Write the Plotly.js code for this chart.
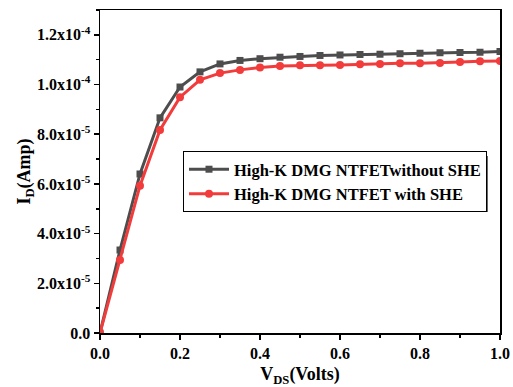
<!DOCTYPE html>
<html><head><meta charset="utf-8">
<script src="https://cdn.plot.ly/plotly-3.0.1.min.js"></script>
<style>body{margin:0;padding:0;background:#fff}#c{width:513px;height:387px}
#c svg text, #c svg tspan{font-family:"Liberation Serif" !important}</style>
</head><body>
<div id="c"></div>
<script>
const vds = [0,0.05,0.1,0.15,0.2,0.25,0.3,0.35,0.4,0.45,0.5,0.55,0.6,0.65,0.7,0.75,0.8,0.85,0.9,0.95,1.0];
const idWithout = [0,3.34e-5,6.4e-5,8.66e-5,9.9e-5,1.051e-4,1.083e-4,1.097e-4,1.104e-4,1.110e-4,1.113e-4,1.117e-4,1.119e-4,1.121e-4,1.122e-4,1.124e-4,1.126e-4,1.128e-4,1.129e-4,1.130e-4,1.133e-4];
const idWith = [0,2.94e-5,5.93e-5,8.17e-5,9.49e-5,1.019e-4,1.046e-4,1.059e-4,1.069e-4,1.075e-4,1.078e-4,1.078e-4,1.079e-4,1.082e-4,1.083e-4,1.086e-4,1.086e-4,1.087e-4,1.091e-4,1.094e-4,1.095e-4];
const names = ["High-K DMG NTFETwithout SHE","High-K DMG NTFET with SHE"];
const yTickVals = [0,2e-5,4e-5,6e-5,8e-5,1e-4,1.2e-4];
const yTickText = ["0.0","2.0x10<sup>-5</sup>","4.0x10<sup>-5</sup>","6.0x10<sup>-5</sup>","8.0x10<sup>-5</sup>","1.0x10<sup>-4</sup>","1.2x10<sup>-4</sup>"];
const xTickVals = [0,0.2,0.4,0.6,0.8,1.0];
const xTickText = ["0.0","0.2","0.4","0.6","0.8","1.0"];

const F = "Liberation Serif";
const traces = [
 {x:vds,y:idWithout,name:names[0],mode:"lines+markers",line:{color:"#4d4d4d",width:3},marker:{symbol:"square",size:7,color:"#4d4d4d"}},
 {x:vds,y:idWith,name:names[1],mode:"lines+markers",line:{color:"#f23c3c",width:3},marker:{symbol:"circle",size:8,color:"#f23c3c"}}
];
const axisCommon = {showline:true,linecolor:"#000",linewidth:1.5,mirror:true,ticks:"outside",ticklen:5,tickwidth:1.5,tickcolor:"#000",showgrid:false,zeroline:false,
  tickfont:{family:F,size:16,color:"#000",weight:"bold"}};
const layout = {
 width:513,height:387,margin:{l:100,r:13,t:10,b:54},
 paper_bgcolor:"#fff",plot_bgcolor:"#fff",
 font:{family:F,color:"#000"},
 xaxis:Object.assign({},axisCommon,{range:[0,1.0],tickvals:xTickVals,ticktext:xTickText,
   minor:{dtick:0.1,ticks:"outside",ticklen:3,tickwidth:1.5,tickcolor:"#000"},
   title:{text:"V<sub>DS</sub>(Volts)",font:{family:F,size:18,weight:"bold"},standoff:8}}),
 yaxis:Object.assign({},axisCommon,{range:[0,1.3e-4],tickvals:yTickVals,ticktext:yTickText,
   minor:{dtick:1e-5,ticks:"outside",ticklen:3,tickwidth:1.5,tickcolor:"#000"},
   title:{text:"I<sub>D</sub>(Amp)",font:{family:F,size:18,weight:"bold"},standoff:0}}),
 legend:{x:0.2075,y:0.5635,xanchor:"left",yanchor:"top",bgcolor:"#fff",bordercolor:"#000",borderwidth:1,
   font:{family:F,size:16.5,weight:"bold",color:"#000"},tracegroupgap:0,itemwidth:40},
 shapes:[{type:"rect",xref:"paper",yref:"paper",x0:0.225,x1:0.969,y0:0.3746,y1:0.548,fillcolor:"#000",line:{width:0},layer:"above"}],
 showlegend:true
};
Plotly.newPlot("c",traces,layout,{displayModeBar:false,staticPlot:true});
</script></body></html>
